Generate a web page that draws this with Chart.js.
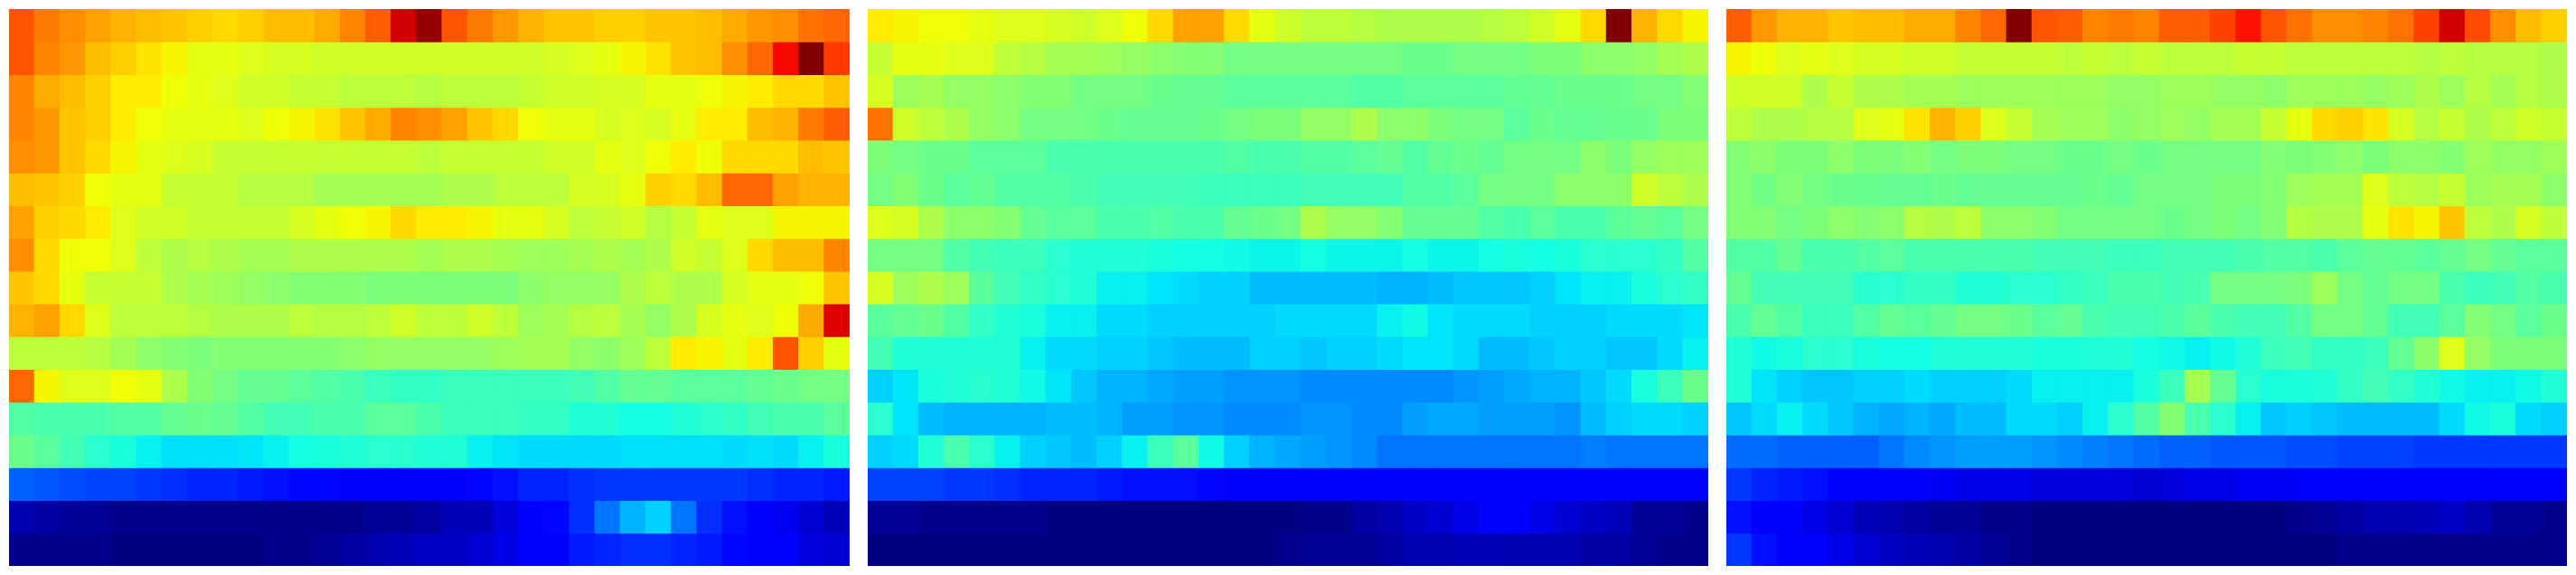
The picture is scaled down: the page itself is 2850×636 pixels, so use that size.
<!DOCTYPE html>
<html>
<head>
<meta charset="utf-8">
<title>heatmaps</title>
<script src="https://cdn.jsdelivr.net/npm/chart.js@4"></script>
<style>
  html, body { margin: 0; padding: 0; background: #fff; }
  canvas { position: absolute; top: 10px; }
</style>
</head>
<body>
<canvas id="panelA" width="930" height="616" style="left:10px"></canvas>
<canvas id="panelB" width="930" height="616" style="left:960px"></canvas>
<canvas id="panelC" width="930" height="616" style="left:1910px"></canvas>
<script>
// cell values in percent of the colour range, top row first, 33 columns
var colLabels = ["1","2","3","4","5","6","7","8","9","10","11","12","13","14","15","16","17","18","19","20","21","22","23","24","25","26","27","28","29","30","31","32","33"];
var rowLabels = ["1","2","3","4","5","6","7","8","9","10","11","12","13","14","15","16","17"];

var panelA = [
  [82,78,76,74,72,71,70,69,68,69,71,71,73,77,81,93,98,82,78,75,72,70,70,69,69,70,70,71,73,75,76,79,80],
  [82,77,75,71,69,67,65,63,63,62,61,61,60,60,60,60,60,60,60,60,60,61,62,63,65,67,70,71,76,80,90,100,85],
  [77,73,71,69,66,66,64,63,62,60,60,59,59,58,58,58,57,58,58,58,59,60,60,61,61,63,63,64,65,66,68,68,70],
  [77,75,70,69,66,64,63,63,63,62,64,65,67,70,73,77,76,74,70,68,64,63,63,61,62,61,63,66,66,71,72,78,81],
  [76,75,70,68,65,63,62,61,59,59,59,59,59,59,59,59,58,59,59,59,59,60,60,63,62,64,66,64,68,68,68,71,70],
  [71,70,69,64,63,63,59,59,59,57,57,57,55,55,55,55,55,56,56,58,58,58,61,61,63,69,68,71,80,80,74,72,72],
  [74,69,68,66,62,60,60,59,59,59,59,61,63,64,65,68,66,66,65,63,63,61,58,59,60,57,59,63,62,62,65,65,65],
  [76,68,64,64,62,58,56,57,56,55,55,56,56,56,56,56,55,56,56,55,54,54,55,56,55,56,60,59,62,68,71,71,77],
  [70,68,63,59,59,59,56,55,54,53,52,51,51,51,50,50,50,50,50,50,52,53,53,53,56,58,56,56,61,63,63,64,70],
  [72,74,68,62,58,58,58,57,56,56,56,58,57,57,58,60,58,58,60,58,54,55,57,58,55,53,56,61,63,62,64,73,92],
  [58,58,58,57,55,52,51,50,51,51,51,51,51,52,53,53,53,53,53,54,55,55,53,52,54,58,66,65,63,66,82,69,63],
  [80,65,62,62,64,63,56,51,49,47,47,46,45,44,42,41,41,42,42,42,42,42,43,45,47,47,46,46,46,47,48,49,49],
  [45,44,44,44,45,45,47,48,47,45,43,43,44,44,46,46,44,42,42,42,41,41,39,39,37.5,37.5,39,40,41,43,44,44,46],
  [48,46,43,40,38,36,34.5,34.5,34.5,35,36,37.5,38,39,40,40,39,39,36,35,34,34,34,34,34.5,34.5,34.5,34.5,34,34.5,34,36,38],
  [22,21,20,19,19,18,17,16,16,15,14,13,13,12,12,12,12,12,13,14,16,16,17,18,18,18,18,18,18,17,16,16,15],
  [4,3,2,2,1,1,1,1,1,1,1,1,1,1,2,2,3,5,5,8,11,13,17,24,30,33,24,17,14,11,10,7,5],
  [1,1,1,1,0,0,0,0,0,0,1,1,2,3,4,5,6,6,7,9,11,12,15,16,17,17,16,15,13,11,11,8,7]
];

var panelB = [
  [66,65,64,64,63,62,62,61,60,62,64,68,74,74,68,63,60,58,58,57,56,56,56,56,57,58,60,63,68,100,72,68,65],
  [59,63,63,62,62,58,57,55,55,54,53,52,51,51,49,49,49,49,49,49,49,48,48,49,49,49,50,50,52,52,53,55,56],
  [61,54,55,53,53,52,51,51,49,49,49,48,47,47,46,46,46,46,46,45,45,46,46,46,46,47,47,48,48,48,49,49,51],
  [79,60,58,56,53,52,49,49,49,48,47,47,47,48,49,50,50,53,53,56,52,52,50,49,49,46,48,47,47,48,48,50,50],
  [50,49,48,48,46,46,46,44,44,44,44,44,44,44,45,44,44,45,45,46,47,45,47,48,47,49,49,49,52,50,53,54,54],
  [49,51,48,46,47,45,45,45,44,43,43,43,43,42,42,42,42,43,43,43,43,45,45,46,49,49,49,52,52,52,60,58,56],
  [62,61,56,52,52,51,47,46,46,44,44,45,44,44,47,48,49,56,53,53,51,47,47,47,45,44,46,44,44,46,47,46,49],
  [49,49,49,45,43,42,42,40,39,39,39,38,37.5,37.5,37,36.5,36.5,37.5,36.5,36.5,36.5,37.5,36.5,36.5,37.5,38,37.5,38,40,40,40,41,45],
  [61,54,56,54,46,43,41,40,39,36,36,35,34,33,33,31,31,31,31,31,30,30,31,32,32,32,33,35,36,36,38,40,41],
  [46,47,48,45,41,39,38,36,36,34,34,33,33,33,33,33,34,34,34,34,36,37,35,34,34,34,33,33,33,34,34,34,35],
  [43,39,39,39,39,39,36,34,34,33,33,32,31,31,31,33,33,32,33,33,34,35,35,34,31,31,32,33,33,32,32,34,36],
  [33,35,38,39,40,39,37,35,32,30,30,29,28,28,27,27,27,26,26,26,26,26,26,27,28,29,30,30,32,34,38,42,48],
  [40,35,31,30,30,30,30,31,31,30,28,28,27,27,26,26,26,27,27,26,26,28,29,29,28,28,28,27,31,33,34,34,33],
  [33,34,39,44,40,36,33,32,31,33,36,42,46,37,33,30,29,28,27,26,24,24,24,24,24,24,24,24,25,24,24,24,24],
  [19,19,19,18,18,17,16,16,16,15,14,14,14,13,12,12,12,12,12,11,11,11,11,11,11,11,11,11,11,11,11,11,11],
  [2,2,1,1,1,1,1,0,0,0,0,0,0,0,0,0,0,1,1,3,4,6,7,9,11,11,9,7,6,5,2,2,1],
  [0,0,0,0,0,0,0,0,0,0,0,0,0,0,0,0,1,2,2,2,3,4,4,5,5,4,4,4,3,3,2,1,1]
];

var panelC = [
  [81,75,72,72,70,71,71,73,73,77,80,100,82,81,77,78,77,81,81,84,89,82,79,76,76,77,79,84,93,83,76,71,69],
  [65,64,62,63,62,61,61,60,60,59,59,59,59,58,59,58,59,58,58,58,59,59,58,58,58,58,58,57,58,57,57,57,56],
  [60,60,60,56,59,56,56,55,55,54,54,54,54,54,54,53,53,54,54,53,53,52,54,54,54,53,54,56,54,57,55,57,56],
  [58,56,56,57,57,62,63,67,72,69,62,59,55,54,54,52,53,54,53,55,55,59,63,68,69,67,61,57,59,56,58,60,59],
  [51,52,50,50,52,50,50,51,49,50,50,49,49,48,48,49,48,49,49,49,49,51,50,51,52,50,52,52,51,54,53,53,54],
  [51,49,51,49,48,48,47,47,48,47,47,47,47,47,48,47,49,49,49,50,50,51,54,55,55,62,58,57,59,54,55,55,52],
  [51,51,49,50,52,51,52,57,56,58,52,52,51,49,49,49,49,48,49,50,49,51,57,56,56,63,67,65,70,58,56,61,58],
  [45,45,47,44,44,45,46,44,44,44,44,44,43,43,43,42,42,43,43,43,44,45,45,44,46,47,47,46,47,49,47,46,46],
  [47,43,43,43,43,40,40,41,41,39,39,40,40,41,42,44,44,43,44,49,49,49,50,54,49,47,49,49,44,42,43,45,44],
  [44,47,45,42,42,45,47,46,47,49,49,48,46,47,44,43,43,44,46,44,43,43,45,49,49,47,43,43,46,51,49,46,48],
  [39,37,38,40,40,38,37.5,37.5,38.5,39,39,39,38,38,38.5,39,37.5,37,36,37,39,42,43,41,41,42,47,52,62,53,50,50,50],
  [39,35,33,32,32,33,33,34,33,33,33,34,36,36,36,36,38,42,55,47,40,38,38,39,41,43,41,39,37,36,36,37,39],
  [32,34,36,34,32,30,29,30,29,31,31,34,34,33,36,40,45,51,44,40,36,32,33,32,31,31,31,31,34,37,38,34,33],
  [23,23,22,22,22,22,24,26,27,28,28,28,27,26,25,24,23,22,22,21,21,21,20,20,19,19,19,18,18,18,18,18,18],
  [18,16,15,14,12,12,11,11,10,9,9,9,8,8,8,8,7,8,9,9,10,10,11,11,11,11,11,11,11,11,11,11,11],
  [14,11,11,9,7,5,4,3,2,2,1,1,0,0,0,0,0,0,0,0,0,0,1,2,3,4,4,5,6,4,2,2,1],
  [18,14,11,12,9,7,6,5,4,3,2,1,0,0,0,0,0,0,0,0,0,0,0,0,1,1,1,1,1,1,1,1,1]
];

// jet colour map stops: [position, level]
var jetRed = [[0,0],[0.35,0],[0.66,1],[0.89,1],[1,0.5]];
var jetGreen = [[0,0],[0.125,0],[0.375,1],[0.64,1],[0.91,0],[1,0]];
var jetBlue = [[0,0.5],[0.11,1],[0.34,1],[0.65,0],[1,0]];

function channel(stops, v) {
  for (var i = 1; i < stops.length; i++) {
    if (v <= stops[i][0]) {
      var t = (v - stops[i-1][0]) / (stops[i][0] - stops[i-1][0]);
      return Math.round(255 * (stops[i-1][1] + t * (stops[i][1] - stops[i-1][1])));
    }
  }
  return Math.round(255 * stops[stops.length-1][1]);
}

function jet(value) {
  var v = value / 100;
  return "rgb(" + channel(jetRed, v) + "," + channel(jetGreen, v) + "," + channel(jetBlue, v) + ")";
}

function createHeatmap(elementId, rows) {
  var ctx = document.getElementById(elementId).getContext('2d');
  // one stacked dataset per row, each cell is one unit tall
  var datasets = rows.map(function(row, r) {
    return {
      label: rowLabels[r],
      data: row.map(function() { return 1; }),
      backgroundColor: row.map(jet),
      borderWidth: 0,
      inflateAmount: 0.5,
      barPercentage: 1,
      categoryPercentage: 1
    };
  });
  return new Chart(ctx, {
    type: 'bar',
    data: { labels: colLabels, datasets: datasets },
    options: {
      responsive: false,
      animation: false,
      events: [],
      layout: { padding: 0 },
      plugins: { legend: { display: false }, tooltip: { enabled: false } },
      scales: {
        x: { stacked: true, display: false },
        y: { stacked: true, display: false, reverse: true, min: 0, max: rowLabels.length }
      }
    }
  });
}

createHeatmap("panelA", panelA);
createHeatmap("panelB", panelB);
createHeatmap("panelC", panelC);
</script>
</body>
</html>
